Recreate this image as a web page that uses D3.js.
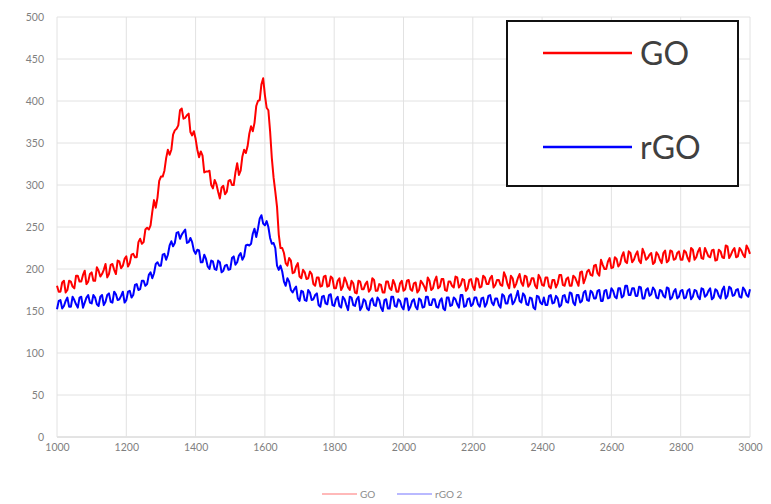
<!DOCTYPE html>
<html><head><meta charset="utf-8">
<script src="https://cdn.jsdelivr.net/npm/d3@7"></script>
<style>body{margin:0;background:#fff}svg{display:block}text{font-family:Lato,"Open Sans",sans-serif}</style>
</head><body><svg id="c" width="771" height="504"></svg>
<script>
// Raman shift (cm-1): readings at 1000,1010,...,3000 and at 1005,1015,...,2995
const wnMain = d3.range(1000, 3001, 10);
const wnMid = d3.range(1005, 3000, 10);
const goValues = [180,173,186,175,185,177,192,185,198,185,196,186,198,194,206,194,206,194,209,204,
215,207,218,214,236,232,249,252,282,285,310,317,342,342,365,371,391,380,385,359,
355,333,335,316,317,296,301,284,299,292,306,300,326,317,342,346,370,374,400,420,
407,389,332,292,241,225,207,213,195,203,191,199,188,197,182,190,179,191,179,191,
177,186,175,190,178,186,172,186,176,182,173,189,174,182,172,185,177,187,173,183,
174,186,176,183,172,186,179,190,175,186,177,188,175,185,180,191,178,188,174,187,
179,189,178,192,182,189,178,187,181,196,182,192,178,189,184,192,179,189,180,193,
181,190,179,187,178,193,181,188,180,192,185,196,183,197,193,204,195,211,200,209,
201,214,203,215,209,221,208,217,210,224,211,217,206,220,211,219,208,222,211,219,
211,222,213,225,211,221,213,225,215,222,210,223,214,228,213,222,214,225,217,228,218];
const goValuesMid = [173,184,172,186,179,192,185,193,182,194,186,202,191,199,190,205,199,210,201,212,
203,217,214,232,230,247,247,268,273,305,310,332,336,360,367,389,379,383,363,364,
342,340,315,316,300,306,292,297,289,305,300,315,312,334,338,361,364,394,401,427,
392,364,309,274,225,219,204,210,196,207,189,196,189,194,180,190,180,192,180,189,
177,189,179,185,175,183,171,185,176,185,176,187,174,181,172,185,175,182,173,186,
176,187,174,184,175,183,174,186,177,191,179,188,174,185,178,190,181,187,177,188,
175,188,179,190,182,192,181,187,180,191,177,189,182,194,180,191,182,189,177,189,
180,190,177,187,183,193,180,190,180,190,180,197,189,199,192,205,192,205,200,213,
202,212,206,220,207,219,211,221,207,219,213,219,208,217,207,222,210,221,212,221,
211,220,209,223,214,225,212,220,214,223,211,221,213,227,217,225,215,222,214,224];
const rgoValues = [152,163,156,166,155,163,154,167,160,169,159,166,156,169,161,171,160,170,164,173,
163,174,169,182,176,186,182,196,195,208,204,218,217,233,231,244,241,247,232,232,
218,222,208,212,200,209,199,208,198,205,200,215,208,219,215,229,230,248,248,264,
252,250,230,225,199,197,180,185,172,179,162,173,162,172,164,171,155,168,158,170,
156,167,154,164,151,166,156,167,155,162,151,165,156,163,150,164,153,167,155,162,
152,165,155,164,152,163,155,167,157,164,154,165,151,166,157,164,154,169,156,165,
158,166,155,166,159,169,157,165,154,168,159,170,161,174,160,168,157,165,152,167,
158,157,168,159,168,155,168,161,172,160,169,160,172,163,174,165,174,162,174,165,
177,167,177,166,180,169,177,168,179,165,175,168,178,166,175,168,178,164,173,165,
174,165,174,164,175,167,177,167,174,164,176,168,175,165,179,168,175,167,178,169,176];
const rgoValuesMid = [162,153,162,155,167,158,166,154,166,160,169,158,167,157,169,161,173,163,168,160,
173,166,181,175,186,180,193,189,206,204,217,211,228,227,243,236,244,231,237,222,
223,208,217,203,210,200,210,196,204,199,213,205,216,211,228,228,242,238,260,254,
257,237,231,204,204,185,189,175,176,165,174,163,175,163,169,157,167,159,169,157,
164,156,167,157,167,157,164,151,164,153,162,157,166,154,163,153,167,156,164,155,
165,151,162,155,165,154,167,157,164,155,162,153,166,156,166,158,169,155,164,156,
166,158,165,155,168,160,165,157,170,159,168,158,167,162,171,158,166,154,168,160,
166,157,169,160,165,157,169,160,171,157,169,162,174,162,172,165,175,162,175,166,
174,165,177,168,180,169,177,168,178,165,177,170,175,165,174,166,177,166,176,167,
175,166,176,167,174,164,176,169,177,166,174,165,179,168,177,169,176,166,175,167];
const xTicks = [1000,1200,1400,1600,1800,2000,2200,2400,2600,2800,3000];
const yTicks = [0,50,100,150,200,250,300,350,400,450,500];
const seriesNames = ["GO","rGO"];
const bottomLegendNames = ["GO","rGO 2"];
const colors = ["#ff0000","#0000ff"];

function merge(mainVals, midVals){
  const pts = [];
  mainVals.forEach((v,i)=>{
    pts.push([wnMain[i], v]);
    if (i < midVals.length) pts.push([wnMid[i], midVals[i]]);
  });
  return pts;
}
const series = [merge(goValues, goValuesMid), merge(rgoValues, rgoValuesMid)];

const svg = d3.select("#c");
const x = d3.scaleLinear().domain([1000,3000]).range([57,750]);
const y = d3.scaleLinear().domain([0,500]).range([437,17]);

svg.append("g").selectAll("line").data(yTicks).join("line")
  .attr("x1",x(1000)).attr("x2",x(3000)).attr("y1",d=>y(d)).attr("y2",d=>y(d))
  .attr("stroke",d=>d===0?"#c8c8c8":"#e2e2e2").attr("stroke-width",1);
svg.append("g").selectAll("line").data(xTicks).join("line")
  .attr("x1",d=>x(d)).attr("x2",d=>x(d)).attr("y1",y(0)).attr("y2",y(500))
  .attr("stroke","#e2e2e2").attr("stroke-width",1);

const ya = svg.append("g").attr("transform",`translate(${x(1000)},0)`)
  .call(d3.axisLeft(y).tickValues(yTicks).tickSize(0).tickPadding(13));
const xa = svg.append("g").attr("transform",`translate(0,${y(0)})`)
  .call(d3.axisBottom(x).tickValues(xTicks).tickSize(0).tickPadding(7).tickFormat(d3.format("d")));
[ya,xa].forEach(a=>{a.select(".domain").remove();
  a.selectAll("text").attr("fill","#7f7f7f").style("font-size","10.5px").style("font-family","Lato,'Open Sans',sans-serif");});

const line = d3.line().x(d=>x(d[0])).y(d=>y(d[1]));
series.forEach((pts,k)=>{
  svg.append("path").datum(pts).attr("d",line).attr("fill","none")
    .attr("stroke",colors[k]).attr("stroke-width",2).attr("stroke-linejoin","round");
});

const lg = svg.append("g");
lg.append("rect").attr("x",507).attr("y",21).attr("width",231).attr("height",165)
  .attr("fill","#fff").attr("stroke","#111").attr("stroke-width",2);
const legY = [53,147];
seriesNames.forEach((n,k)=>{
  lg.append("line").attr("x1",543).attr("x2",632).attr("y1",legY[k]).attr("y2",legY[k])
    .attr("stroke",colors[k]).attr("stroke-width",2.5);
  lg.append("text").attr("x",640).attr("y",legY[k]).attr("dy","0.36em")
    .attr("fill","#404040").style("font-size","32px").text(n);
});

const bl = svg.append("g");
const blX = [322,397];
bottomLegendNames.forEach((n,k)=>{
  bl.append("line").attr("x1",blX[k]).attr("x2",blX[k]+35).attr("y1",494).attr("y2",494)
    .attr("stroke",colors[k]).attr("stroke-opacity",0.55).attr("stroke-width",1.2);
  bl.append("text").attr("x",blX[k]+38).attr("y",494).attr("dy","0.35em")
    .attr("fill","#8c8c8c").style("font-size","10px").text(n);
});
</script></body></html>
